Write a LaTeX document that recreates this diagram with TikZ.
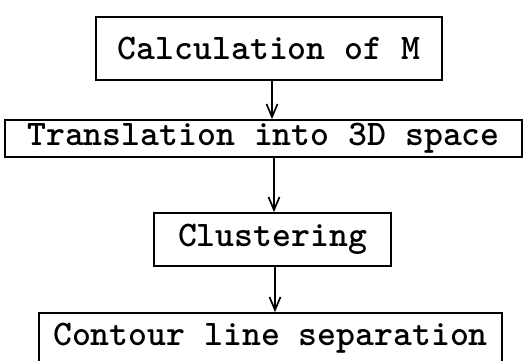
\documentclass[tikz,border=0pt]{standalone}
\usepackage{fontspec}
\usepackage{tikz}
\usetikzlibrary{arrows.meta}

\begin{document}
\begin{tikzpicture}[x=1pt,y=-1pt,line width=1.7pt]

      \clip (0,0) rectangle (525,360);

      \begin{scope}[every node/.style={draw,inner sep=1pt,font=\ttfamily\bfseries\fontsize{36}{38}\selectfont}]
        \node[minimum width=346pt,minimum height=63pt] (1) at (269,48.5)  {Calculation of M};
        \node[minimum width=517pt,minimum height=37pt] (2) at (263.5,138.5) {Translation into 3D space};
        \node[minimum width=237pt,minimum height=53pt] (3) at (272.5,239.5) {Clustering};
        \node[minimum width=463pt,minimum height=50pt] (4) at (270.5,338)   {Contour line separation};
      \end{scope}

      \begin{scope}[every edge/.style={draw,-{Straight Barb[length=13pt,width=11pt]}}]
        \path ([xshift=3pt]1.south)  edge ([xshift=3pt]1.south |- 2.north);
        \path ([xshift=10.5pt]2.south) edge ([xshift=10.5pt]2.south |- 3.north);
        \path ([xshift=2.5pt]3.south)  edge ([xshift=2.5pt]3.south |- 4.north);
      \end{scope}

    \end{tikzpicture}
\end{document}
